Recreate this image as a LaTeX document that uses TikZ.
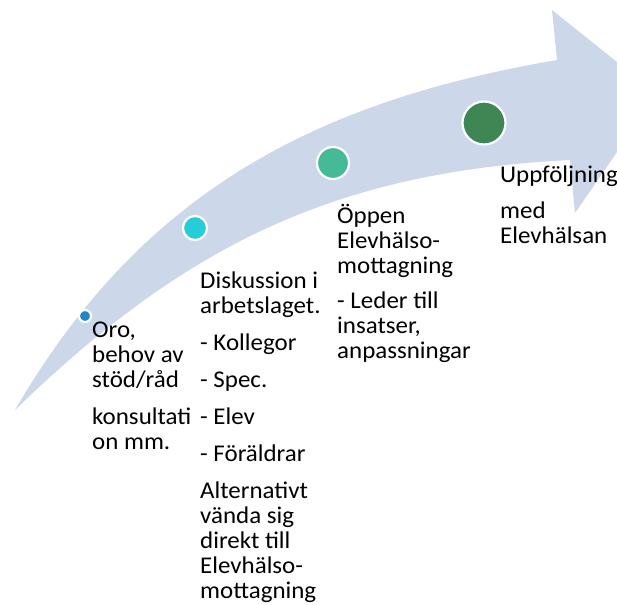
\documentclass[tikz,border=0pt]{standalone}
\usepackage{fontspec}
\setmainfont{Carlito}[FakeStretch=1.04]
\usepackage{tkz-euclide}
\usepackage{tikz}

\definecolor{band}{RGB}{204,215,233}
\definecolor{stepA}{RGB}{38,132,200}
\definecolor{stepB}{RGB}{38,204,216}
\definecolor{stepC}{RGB}{68,186,150}
\definecolor{stepD}{RGB}{62,135,85}

\begin{document}
\begin{tikzpicture}[x=1pt, y=-1pt,
    dot/.style={circle, draw=white, line width=2.2pt, inner sep=0pt},
    txt/.style={anchor=north west, inner sep=0pt, align=left,
        font=\fontsize{24}{25}\selectfont}]
    \useasboundingbox (0,0) rectangle (617,604);
    \clip (0,0) rectangle (617,604);
    \tkzDefPoints{15/410/T,557/60/U,552/10/H,657/94/K,575/213/N,570/160/L}
    \tkzDefPoints{140/195/u1,311/102/u2,181/249/l1,330/172/l2}
    \fill[band] (T) .. controls (u1) and (u2) .. (U) -- (H) -- (K) -- (N) -- (L)
        .. controls (l2) and (l1) .. (T) -- cycle;
    \tkzDefPoints{85/316/P1,195/228/P2,333/163/P3,484/123/P4}
    \node[dot, fill=stepA, minimum size=12pt] (p1) at (P1) {};
    \node[dot, fill=stepB, minimum size=24pt] (p2) at (P2) {};
    \node[dot, fill=stepC, minimum size=32pt] (p3) at (P3) {};
    \node[dot, fill=stepD, minimum size=43pt] (p4) at (P4) {};
    \node[txt] (oro) at (92,315) {\rule{0pt}{22pt}Oro,\\behov av\\stöd/råd\\[12pt]konsultati\\on mm.};
    \node[txt] (disk) at (200,266) {\rule{0pt}{22pt}Diskussion i\\arbetslaget.\\[12pt]- Kollegor\\[12pt]- Spec.\\[12pt]- Elev\\[12pt]- Föräldrar\\[12pt]Alternativt\\vända sig\\direkt till\\Elevhälso-\\mottagning};
    \node[txt] (oppen) at (337,201) {\rule{0pt}{22pt}Öppen\\Elevhälso-\\mottagning\\[10pt]- Leder till\\insatser,\\anpassningar};
    \node[txt] (uppf) at (500,160) {\rule{0pt}{22pt}Uppföljning\\[11pt]med\\Elevhälsan};
\end{tikzpicture}
\end{document}
